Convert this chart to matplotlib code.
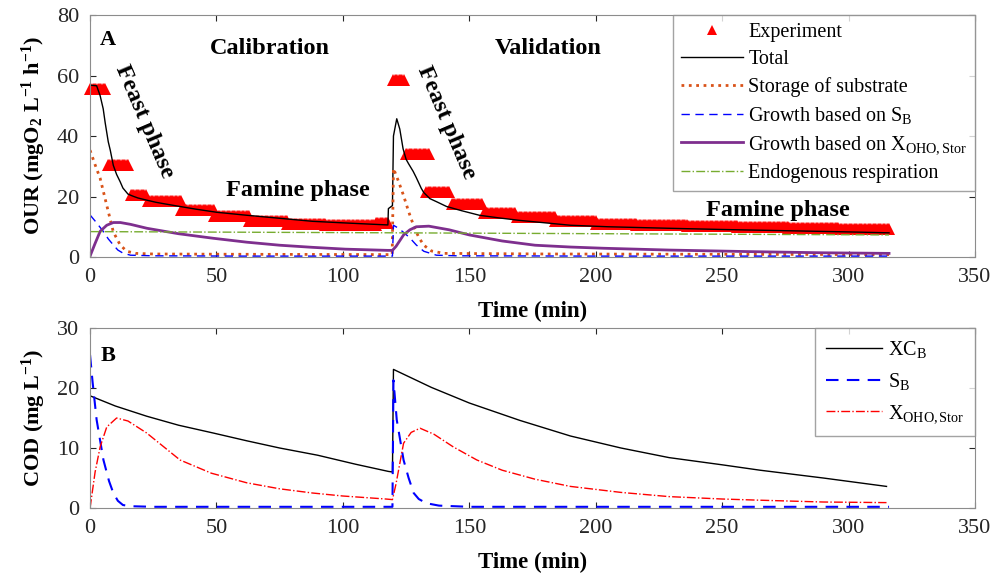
import numpy as np
import matplotlib.pyplot as plt

plt.rcParams['font.family'] = ['Liberation Serif', 'DejaVu Serif']
plt.rcParams['mathtext.fontset'] = 'custom'
plt.rcParams['mathtext.rm'] = 'Liberation Serif'
plt.rcParams['mathtext.it'] = 'Liberation Serif:italic'
plt.rcParams['mathtext.bf'] = 'Liberation Serif:bold'

# --- (A) OUR: experiment (step levels of the logged signal) ---
exp_start = [0, 7, 16, 23, 36, 49, 63, 78, 93, 113, 120, 125, 133, 143, 156, 169, 184, 200, 216, 236, 256, 276, 296]
exp_end = [6, 15, 22, 36, 49, 63, 78, 93, 113, 118, 124, 134, 142, 155, 168, 184, 200, 216, 236, 256, 276, 296, 316]
exp_level = [55.5, 30.5, 20.5, 18.5, 15.5, 13.5, 12.0, 11.0, 10.6, 11.2, 58.5, 34.0, 21.5, 17.5, 14.5, 13.2, 11.8, 11.0,
             10.6, 10.2, 9.9, 9.6, 9.4]

# model: total OUR
tot_t = [0, 2.6, 4, 5.2, 6, 7.2, 8, 9.2, 10.5, 11.9, 13, 15, 17, 19, 22.4, 26, 30, 35.6, 42, 50, 62, 75, 88, 100,
         110, 117.8, 118, 119.6, 120, 121.3, 122.5, 123.8, 125, 126, 127.8, 129, 131, 132, 134.4, 137, 141, 147,
         154, 162, 170, 180, 190, 205, 229, 250, 275, 300, 316]
tot_v = [56.8, 56.6, 53.3, 49.0, 44.3, 38.1, 35.3, 30.3, 27.3, 24.9, 22.8, 20.8, 20.1, 19.5, 18.8, 18.1, 17.5, 16.7,
         15.8, 14.8, 13.8, 12.8, 11.8, 11.3, 10.9, 10.6, 16.0, 17.0, 40.0, 45.7, 42.3, 35.8, 32.3, 30.8, 28.3, 26.3,
         22.7, 21.3, 19.3, 18.3, 16.7, 15.3, 13.8, 12.9, 12.1, 11.3, 10.5, 10.0, 9.5, 9.1, 8.7, 8.3, 8.0]

# storage of substrate
sto_t = [0, 2, 4, 6.6, 9.2, 11.9, 14.5, 18, 25, 60, 118, 119.5, 120, 122, 124, 126, 128, 130, 132, 135, 140, 180, 250, 316]
sto_v = [35.3, 30.5, 26.0, 17.1, 8.3, 4.0, 1.9, 1.2, 1.0, 0.9, 0.8, 0.8, 29.3, 25.0, 20.3, 15.0, 10.3, 6.5, 3.9, 2.0,
         1.2, 1.0, 0.9, 0.8]

# growth based on S_B
gsb_t = [0, 2.6, 5.2, 7.2, 9.2, 11, 13, 16, 25, 60, 118, 119.6, 120, 122, 124.5, 126.5, 129, 132, 137, 145, 200, 316]
gsb_v = [13.9, 11.3, 8.5, 6.0, 4.0, 2.3, 1.3, 0.6, 0.4, 0.3, 0.3, 0.3, 10.5, 9.5, 7.8, 6.3, 4.0, 1.9, 0.6, 0.4, 0.3, 0.3]

# growth based on X_OHO,Stor
gxs_t = [0, 2, 4, 6.6, 9.2, 12, 16, 22.5, 35, 48.7, 62, 75, 88, 101, 117.6, 119.6, 121, 124, 126.5, 129, 134, 142, 150,
         163, 176, 190, 203, 229, 260, 290, 316]
gxs_v = [0.3, 4.5, 8.5, 10.5, 11.4, 11.4, 10.8, 9.5, 7.7, 6.2, 4.9, 3.9, 3.2, 2.6, 2.2, 2.2, 3.5, 7.3, 9.0, 10.0, 10.2,
         9.0, 7.3, 5.3, 3.9, 3.3, 2.9, 2.3, 1.8, 1.4, 1.2]

# endogenous respiration
end_t = [0, 120, 316]
end_v = [8.4, 8.0, 7.3]

# --- (B) COD ---
xcb_t = [0, 10, 22.4, 35, 48.7, 62, 75, 90, 105, 118, 119.6, 120, 135, 150, 170, 190, 210, 229, 250, 265, 290, 315]
xcb_v = [18.7, 17.0, 15.3, 13.8, 12.5, 11.2, 10.0, 8.8, 7.3, 6.1, 6.0, 23.1, 20.1, 17.5, 14.6, 12.0, 10.0, 8.4, 7.2,
         6.3, 5.0, 3.6]

sb_t = [0, 1, 2.6, 5.3, 7.5, 9.2, 11, 13, 16, 25, 60, 118, 119.6, 120, 121.3, 124, 126, 128, 130, 133, 138, 150, 200, 316]
sb_v = [25.5, 21.0, 14.7, 8.0, 4.5, 2.5, 1.2, 0.5, 0.3, 0.2, 0.2, 0.2, 0.2, 21.3, 14.7, 8.0, 5.0, 2.5, 1.5, 0.8, 0.4,
        0.2, 0.2, 0.2]

xs_t = [0, 2, 4, 6.6, 10.5, 15, 22.4, 35.6, 48, 62, 75, 88, 100, 117, 119.6, 121, 124, 127, 130.5, 136, 143.6, 153,
        163, 176, 190, 210, 229, 250, 265, 290, 315]
xs_v = [0.0, 6.0, 10.2, 13.5, 15.0, 14.5, 12.5, 8.0, 5.8, 4.2, 3.2, 2.5, 2.0, 1.5, 1.4, 4.0, 10.8, 12.6, 13.3, 12.3,
        10.2, 8.0, 6.3, 4.8, 3.6, 2.6, 1.9, 1.5, 1.3, 1.0, 0.9]

# expand step levels into the logged samples (every 0.5 min)
exp_t, exp_y = [], []
for a, b, lev in zip(exp_start, exp_end, exp_level):
    tt = np.arange(a, b + 0.01, 0.5)
    exp_t.extend(tt)
    exp_y.extend([lev] * len(tt))

fig = plt.figure(figsize=(9.95, 5.79), dpi=100)
ax1 = fig.add_axes([0.0905, 0.5561, 0.8894, 0.418])
ax2 = fig.add_axes([0.0905, 0.1226, 0.8894, 0.3109])

ax1.plot(exp_t, exp_y, '^', color='red', markersize=9, markeredgewidth=0, label='Experiment', clip_on=False)
ax1.plot(tot_t, tot_v, '-', color='black', lw=1.0, label='Total')
ax1.plot(sto_t, sto_v, ':', color='#D95319', lw=2.0, label='Storage of substrate')
ax1.plot(gsb_t, gsb_v, '--', color='#0000FF', lw=1.0, dashes=(6, 4), label=r'Growth based on S$_\mathrm{B}$')
ax1.plot(gxs_t, gxs_v, '-', color='#7E2F8E', lw=2.0, label=r'Growth based on X$_\mathrm{OHO,Stor}$')
ax1.plot(end_t, end_v, '-.', color='#77AC30', lw=1.0, label='Endogenous respiration')

ax2.plot(xcb_t, xcb_v, '-', color='black', lw=1.0, label=r'XC$_\mathrm{B}$')
ax2.plot(sb_t, sb_v, '--', color='#0000FF', lw=1.5, dashes=(6, 4), label=r'S$_\mathrm{B}$')
ax2.plot(xs_t, xs_v, '-.', color='red', lw=1.0, label=r'X$_\mathrm{OHO,Stor}$')

for ax in (ax1, ax2):
    ax.set_xlim(0, 350)
    ax.set_xticks(range(0, 351, 50))
    ax.tick_params(direction='in', top=True, right=True, length=4, labelsize=16, colors='0.15', pad=8)
    for s in ax.spines.values():
        s.set_color('0.55')
    ax.set_xlabel('Time (min)', fontsize=16.5, fontweight='bold', labelpad=10)

ax1.set_ylim(0, 80)
ax1.set_yticks(range(0, 81, 20))
ax1.set_ylabel(r'OUR (mgO$_\mathbf{2}$ L$^\mathbf{-1}$ h$^\mathbf{-1}$)', fontsize=16, fontweight='bold', labelpad=6)
ax2.set_ylim(0, 30)
ax2.set_yticks(range(0, 31, 10))
ax2.set_ylabel(r'COD (mg L$^\mathbf{-1}$)', fontsize=16, fontweight='bold', labelpad=6)

ax1.text(4, 70, 'A', fontsize=16, fontweight='bold')
ax1.text(71, 69, 'Calibration', fontsize=17.5, fontweight='bold', ha='center', va='center')
ax1.text(181, 69, 'Validation', fontsize=17.5, fontweight='bold', ha='center', va='center')
ax1.text(21.4, 44.7, 'Feast phase', fontsize=17.5, fontweight='bold', ha='center', va='center', rotation=-67)
ax1.text(140.8, 44.4, 'Feast phase', fontsize=17.5, fontweight='bold', ha='center', va='center', rotation=-67)
ax1.text(82, 22, 'Famine phase', fontsize=17.5, fontweight='bold', ha='center', va='center')
ax1.text(272, 15.4, 'Famine phase', fontsize=17.5, fontweight='bold', ha='center', va='center')
ax2.text(4, 24.5, 'B', fontsize=16, fontweight='bold')

leg1 = ax1.legend(loc='upper right', borderaxespad=0, fontsize=14.5, fancybox=False, edgecolor='0.55',
                  handlelength=3.1, handletextpad=0.25, labelspacing=0.4, borderpad=0.4, numpoints=1,
                  markerscale=0.8)
leg1.get_frame().set_linewidth(1.0)
leg2 = ax2.legend(loc='upper right', borderaxespad=0, fontsize=14.5, fancybox=False, edgecolor='0.55',
                  handlelength=2.75, handletextpad=0.3, labelspacing=0.55, borderpad=0.55)
leg2.get_frame().set_linewidth(1.0)

fig.savefig('out.png', dpi=100)
